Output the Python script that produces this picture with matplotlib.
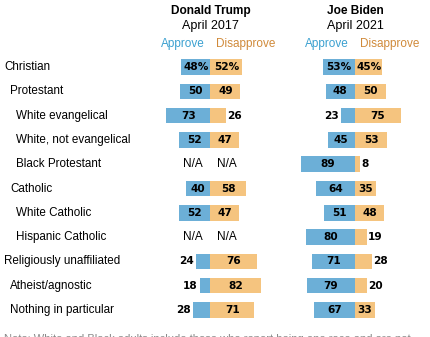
import matplotlib.pyplot as plt
import numpy as np

groups = ["Christian", "Protestant", "White evangelical", "White, not evangelical",
          "Black Protestant", "Catholic", "White Catholic", "Hispanic Catholic",
          "Religiously unaffiliated", "Atheist/agnostic", "Nothing in particular"]
indent = [0, 1, 2, 2, 2, 1, 2, 2, 0, 1, 1]

trump_approve = [48, 50, 73, 52, None, 40, 52, None, 24, 18, 28]
trump_disapprove = [52, 49, 26, 47, None, 58, 47, None, 76, 82, 71]
biden_approve = [53, 48, 23, 45, 89, 64, 51, 80, 71, 79, 67]
biden_disapprove = [45, 50, 75, 53, 8, 35, 48, 19, 28, 20, 33]

BLUE = "#6CAFD7"
ORANGE = "#F5C47F"
W, H = 431, 337
px_per_pt = 0.61      # pixels per percentage point
row0, row_step = 67, 24.3

plt.rcParams['font.family'] = ['Liberation Sans Narrow', 'Liberation Sans', 'DejaVu Sans']
num_font = ['DejaVu Sans']

fig = plt.figure(figsize=(W / 100, H / 100), dpi=100)


def fx(x):
    return x / W


def fy(y):
    return 1 - y / H


def panel(center_px, approve, disapprove, name, date):
    ax = fig.add_axes([0, 0, 1, 1])
    ax.patch.set_alpha(0)
    ax.set_xlim(-center_px / px_per_pt, (W - center_px) / px_per_pt)
    ax.set_ylim((H - row0) / row_step, -row0 / row_step)
    ax.axis("off")
    for i, (a, d) in enumerate(zip(approve, disapprove)):
        if a is None:
            ax.text(-29, i, "N/A", ha="center", va="center", fontsize=8.5)
            ax.text(27, i, "N/A", ha="center", va="center", fontsize=8.5)
            continue
        ax.barh(i, -a, left=0, height=0.64, color=BLUE, linewidth=0)
        ax.barh(i, d, left=0, height=0.64, color=ORANGE, linewidth=0)
        sa = f"{a}%" if i == 0 else str(a)
        sd = f"{d}%" if i == 0 else str(d)
        kw = dict(va="center", fontsize=7.6, fontweight="bold", family=num_font)
        if a >= 30:
            ax.text(-a / 2, i, sa, ha="center", **kw)
        else:
            ax.text(-a - 4, i, sa, ha="right", **kw)
        if d >= 30:
            ax.text(d / 2, i, sd, ha="center", **kw)
        else:
            ax.text(d + 2, i, sd, ha="left", **kw)
    fig.text(fx(center_px), fy(11), name, ha="center", va="center", fontsize=8.6, fontweight="bold")
    fig.text(fx(center_px), fy(26), date, ha="center", va="center", fontsize=9)
    fig.text(fx(center_px - 28), fy(44), "Approve", ha="center", va="center",
             fontsize=8.5, color="#3AA0D0")
    fig.text(fx(center_px + 35), fy(44), "Disapprove", ha="center", va="center",
             fontsize=8.5, color="#D08A3A")


panel(210.5, trump_approve, trump_disapprove, "Donald Trump", "April 2017")
panel(355, biden_approve, biden_disapprove, "Joe Biden", "April 2021")

for i, (g, ind) in enumerate(zip(groups, indent)):
    fig.text(fx(4 + 6 * ind), fy(row0 + row_step * i), g, ha="left", va="center", fontsize=8.4)

fig.text(fx(4), fy(339), "Note: White and Black adults include those who report being one race and are not",
         ha="left", va="center", fontsize=8, color="#8a8a8a")

fig.savefig("out.png", dpi=100)
